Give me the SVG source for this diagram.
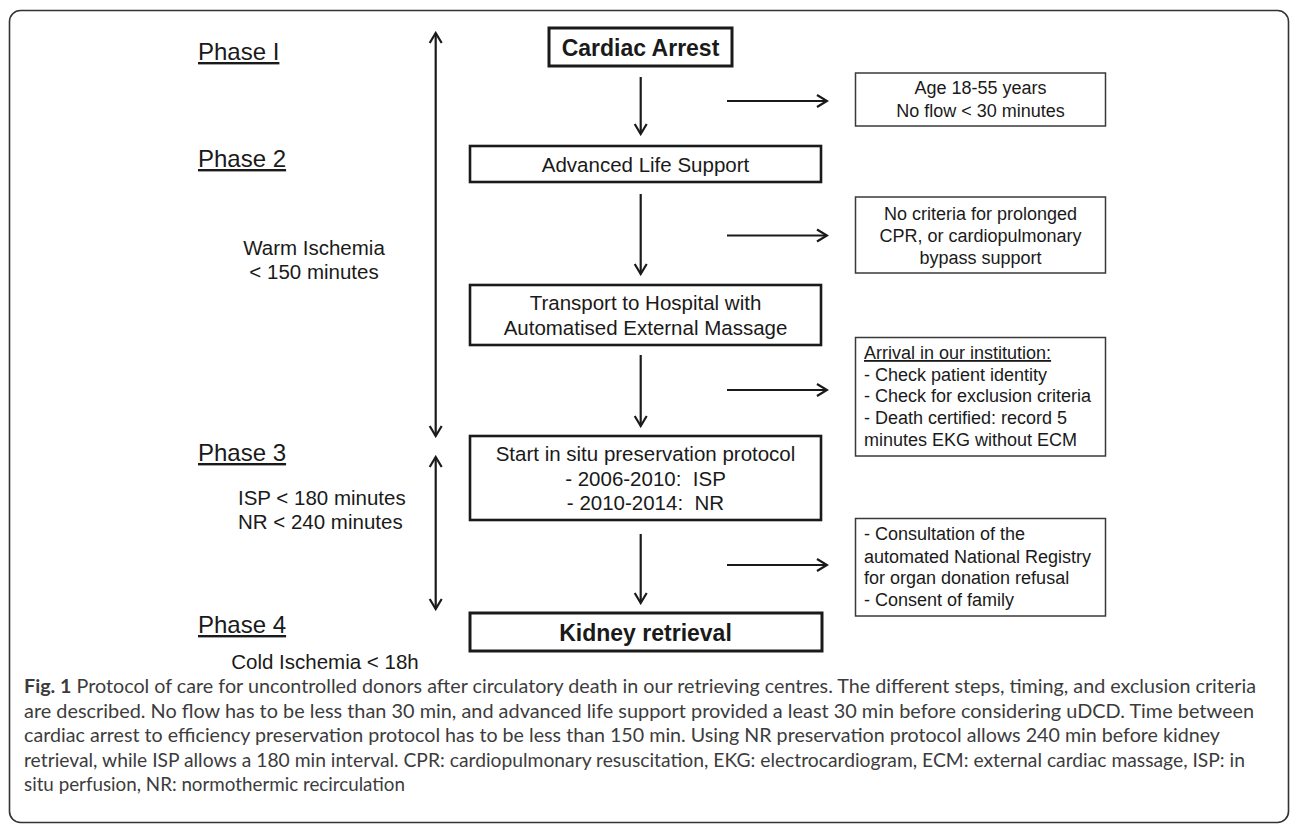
<svg xmlns="http://www.w3.org/2000/svg" width="1290" height="826" viewBox="0 0 1290 826">
<defs>
<marker id="ah" viewBox="-13 -8 15 16" refX="0" refY="0" markerWidth="15" markerHeight="16" markerUnits="userSpaceOnUse" orient="auto-start-reverse">
<path d="M-10,-6 L0,0 L-10,6" fill="none" stroke="#1a1a1a" stroke-width="2.2"/>
</marker>
<style>
.t{font-family:"Liberation Sans",Arial,sans-serif;fill:#1a1a1a;}
.ph{font-size:24px;text-decoration:underline;}
.m{font-size:20.5px;}
.s{font-size:18px;}
.b{font-size:23px;font-weight:bold;}
.box{fill:#fff;stroke:#1a1a1a;stroke-width:2.6;}
.bbox{fill:#fff;stroke:#1a1a1a;stroke-width:3;}
.side{fill:#fff;stroke:#3a3a3a;stroke-width:1.5;}
.c{stroke:#1a1a1a;stroke-width:2.2;fill:none;marker-end:url(#ah);}
.cap{font-family:Lato,"Open Sans",sans-serif;font-size:19px;fill:#3c3c3c;}
</style>
</defs>
<rect x="9.5" y="10.5" width="1279" height="812" rx="11" fill="#fff" stroke="#333" stroke-width="1.6"/>

<g id="labels">
<text class="t ph" x="198" y="60">Phase I</text>
<text class="t ph" x="198" y="167">Phase 2</text>
<text class="t m" x="314" y="255" text-anchor="middle">Warm Ischemia</text>
<text class="t m" x="314" y="279" text-anchor="middle">&lt; 150 minutes</text>
<text class="t ph" x="198" y="461">Phase 3</text>
<text class="t m" x="238" y="505">ISP &lt; 180 minutes</text>
<text class="t m" x="238" y="529">NR &lt; 240 minutes</text>
<text class="t ph" x="198" y="633">Phase 4</text>
<text class="t m" x="325" y="669" text-anchor="middle">Cold Ischemia &lt; 18h</text>
</g>

<g id="n-cardiac">
<rect class="bbox" x="549" y="28" width="183" height="38"/>
<text class="t b" x="640.5" y="56" text-anchor="middle">Cardiac Arrest</text>
</g>
<g id="n-age">
<rect class="side" x="855.5" y="73" width="250" height="53"/>
<text class="t s" x="980.5" y="94" text-anchor="middle">Age 18-55 years</text>
<text class="t s" x="980.5" y="117" text-anchor="middle">No flow &lt; 30 minutes</text>
</g>
<g id="n-als">
<rect class="box" x="470" y="146" width="351" height="36"/>
<text class="t m" x="645.5" y="171.5" text-anchor="middle">Advanced Life Support</text>
</g>
<g id="n-cpr">
<rect class="side" x="855.5" y="197" width="250" height="76"/>
<text class="t s" x="980.5" y="220" text-anchor="middle">No criteria for prolonged</text>
<text class="t s" x="980.5" y="242" text-anchor="middle">CPR, or cardiopulmonary</text>
<text class="t s" x="980.5" y="264" text-anchor="middle">bypass support</text>
</g>
<g id="n-transport">
<rect class="box" x="470" y="285" width="351" height="60"/>
<text class="t m" x="645.5" y="310" text-anchor="middle">Transport to Hospital with</text>
<text class="t m" x="645.5" y="334.5" text-anchor="middle">Automatised External Massage</text>
</g>
<g id="n-arrival">
<rect class="side" x="855.5" y="337.5" width="250" height="118.5"/>
<text class="t s" x="864" y="359" text-decoration="underline">Arrival in our institution:</text>
<text class="t s" x="864" y="380.5">- Check patient identity</text>
<text class="t s" x="864" y="402">- Check for exclusion criteria</text>
<text class="t s" x="864" y="423.5">- Death certified: record 5</text>
<text class="t s" x="864" y="445.5">minutes EKG without ECM</text>
</g>
<g id="n-start">
<rect class="box" x="470" y="436" width="351" height="84"/>
<text class="t m" x="645.5" y="461" text-anchor="middle">Start in situ preservation protocol</text>
<text class="t m" x="645.5" y="485.5" text-anchor="middle" xml:space="preserve">- 2006-2010:  ISP</text>
<text class="t m" x="645.5" y="510" text-anchor="middle" xml:space="preserve">- 2010-2014:  NR</text>
</g>
<g id="n-consult">
<rect class="side" x="855.5" y="518.5" width="250" height="97.5"/>
<text class="t s" x="864" y="540">- Consultation of the</text>
<text class="t s" x="864" y="562.5">automated National Registry</text>
<text class="t s" x="864" y="584">for organ donation refusal</text>
<text class="t s" x="864" y="605.5">- Consent of family</text>
</g>
<g id="n-kidney">
<rect class="bbox" x="470" y="613" width="352" height="38"/>
<text class="t b" x="645.5" y="641" text-anchor="middle">Kidney retrieval</text>
</g>

<g id="connectors">
<line class="c" x1="640.7" y1="77" x2="640.7" y2="134"/>
<line class="c" x1="640.7" y1="194" x2="640.7" y2="274"/>
<line class="c" x1="640.7" y1="355" x2="640.7" y2="426"/>
<line class="c" x1="640.7" y1="534" x2="640.7" y2="603"/>
<line class="c" x1="727" y1="101" x2="827" y2="101"/>
<line class="c" x1="727" y1="235.5" x2="827" y2="235.5"/>
<line class="c" x1="727" y1="390" x2="827" y2="390"/>
<line class="c" x1="727" y1="565" x2="827" y2="565"/>
<line class="c" x1="435.7" y1="33" x2="435.7" y2="436" style="marker-start:url(#ah)"/>
<line class="c" x1="435.7" y1="457" x2="435.7" y2="609" style="marker-start:url(#ah)"/>
</g>

<g id="caption">
<text class="cap" x="24" y="693" textLength="1232" lengthAdjust="spacingAndGlyphs"><tspan font-weight="bold">Fig. 1</tspan> Protocol of care for uncontrolled donors after circulatory death in our retrieving centres. The different steps, timing, and exclusion criteria</text>
<text class="cap" x="24" y="717.5" textLength="1230" lengthAdjust="spacingAndGlyphs">are described. No flow has to be less than 30 min, and advanced life support provided a least 30 min before considering uDCD. Time between</text>
<text class="cap" x="24" y="742" textLength="1196" lengthAdjust="spacingAndGlyphs">cardiac arrest to efficiency preservation protocol has to be less than 150 min. Using NR preservation protocol allows 240 min before kidney</text>
<text class="cap" x="24" y="766.5" textLength="1221" lengthAdjust="spacingAndGlyphs">retrieval, while ISP allows a 180 min interval. CPR: cardiopulmonary resuscitation, EKG: electrocardiogram, ECM: external cardiac massage, ISP: in</text>
<text class="cap" x="24" y="791" textLength="381" lengthAdjust="spacingAndGlyphs">situ perfusion, NR: normothermic recirculation</text>
</g>
</svg>
